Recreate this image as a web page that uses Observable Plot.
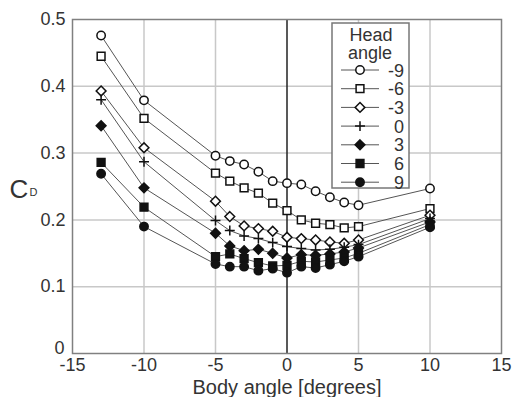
<!DOCTYPE html>
<html><head><meta charset="utf-8">
<script src="https://cdn.jsdelivr.net/npm/d3@7"></script>
<script src="https://cdn.jsdelivr.net/npm/@observablehq/plot@0.6"></script>
<style>body{margin:0;background:#fff}</style>
</head><body><div id="chart"></div>
<script>
const bodyAngles = [-13,-10,-5,-4,-3,-2,-1,0,1,2,3,4,5,10];
const headAngles = [-9,-6,-3,0,3,6,9];
const cdM9 = [0.476,0.379,0.296,0.288,0.283,0.272,0.258,0.255,0.253,0.243,0.234,0.226,0.222,0.247];
const cdM6 = [0.445,0.352,0.270,0.258,0.248,0.240,0.225,0.214,0.200,0.195,0.193,0.188,0.190,0.217];
const cdM3 = [0.393,0.308,0.228,0.205,0.191,0.187,0.183,0.174,0.172,0.170,0.167,0.165,0.170,0.207];
const cd0  = [0.380,0.287,0.199,0.184,0.176,0.172,0.166,0.160,0.157,0.155,0.156,0.159,0.163,0.202];
const cdP3 = [0.341,0.248,0.180,0.161,0.154,0.156,0.150,0.143,0.148,0.147,0.149,0.152,0.158,0.197];
const cdP6 = [0.286,0.219,0.145,0.149,0.142,0.136,0.131,0.132,0.138,0.137,0.140,0.143,0.150,0.193];
const cdP9 = [0.269,0.190,0.134,0.130,0.130,0.124,0.127,0.121,0.130,0.128,0.133,0.138,0.145,0.189];
const seriesValues = [cdM9, cdM6, cdM3, cd0, cdP3, cdP6, cdP9];
const xTicks = [-15,-10,-5,0,5,10,15];
const yTicks = [0,0.1,0.2,0.3,0.4,0.5];

const styles = [
  {symbol:"circle", d3sym:d3.symbolCircle, fill:"white", r:4.2},
  {symbol:"square", d3sym:d3.symbolSquare, fill:"white", r:4.4},
  {symbol:"diamond2", d3sym:d3.symbolDiamond2, fill:"white", r:4.4},
  {symbol:"plus", d3sym:d3.symbolPlus, fill:"none", r:3.3},
  {symbol:"diamond2", d3sym:d3.symbolDiamond2, fill:"#111", r:4.4},
  {symbol:"square", d3sym:d3.symbolSquare, fill:"#111", r:4.4},
  {symbol:"circle", d3sym:d3.symbolCircle, fill:"#111", r:4.2}
];

const rows = [];
headAngles.forEach((h, i) => bodyAngles.forEach((b, j) => rows.push({head:h, body:b, cd:seriesValues[i][j]})));

const font = "'Liberation Sans', Arial, sans-serif";
const marks = [
  Plot.gridX(xTicks.filter(d => d !== 0 && d !== -15 && d !== 15), {stroke:"#c8c8c8", strokeOpacity:1, strokeWidth:1.5}),
  Plot.gridY(yTicks.filter(d => d > 0 && d < 0.5), {stroke:"#c8c8c8", strokeOpacity:1, strokeWidth:1.5}),
  Plot.ruleX([0], {stroke:"#222", strokeWidth:1.5}),
  Plot.frame({stroke:"#808080", strokeWidth:1.5})
];
headAngles.forEach((h, i) => {
  const data = rows.filter(r => r.head === h);
  const s = styles[i];
  marks.push(Plot.line(data, {x:"body", y:"cd", stroke:"#555", strokeWidth:1}));
  marks.push(Plot.dot(data, {x:"body", y:"cd", symbol:s.symbol, r:s.r, fill:s.fill, stroke:"#111", strokeWidth:1.5}));
});
marks.push(
  Plot.axisX({ticks:xTicks, tickSize:0, tickPadding:5, fontSize:18, label:null, tickFormat:d => String(d)}),
  Plot.axisY({ticks:yTicks.filter(d => d > 0), tickSize:0, tickPadding:7, fontSize:18, label:null, tickFormat:d => String(d)}),
  Plot.axisY({ticks:[0], tickSize:0, tickPadding:8, dy:-5, fontSize:18, label:null, tickFormat:d => String(d)}),
  Plot.text(["Body angle [degrees]"], {frameAnchor:"bottom", dy:40, fontSize:20, fill:"#333"}),
  Plot.text(["C"], {frameAnchor:"left", textAnchor:"start", dx:-63, dy:3, fontSize:26, fill:"#333"}),
  Plot.text(["D"], {frameAnchor:"left", textAnchor:"start", dx:-43, dy:6, fontSize:11, fill:"#333"})
);

const plot = Plot.plot({
  width:513, height:397,
  marginLeft:72, marginRight:12, marginTop:19, marginBottom:44,
  style:{fontFamily:font, color:"#333", background:"white", overflow:"visible"},
  x:{domain:[-15,15]},
  y:{domain:[0,0.5]},
  marks
});

// Legend inside the frame
const svg = d3.select(plot);
const g = svg.append("g").attr("font-family", font).attr("fill", "#333");
g.append("rect").attr("x",332).attr("y",23).attr("width",77).attr("height",165)
  .attr("fill","white").attr("stroke","#777").attr("stroke-width",1.5);
g.append("text").attr("x",371).attr("y",41).attr("text-anchor","middle").attr("font-size",18).text("Head");
g.append("text").attr("x",370).attr("y",59).attr("text-anchor","middle").attr("font-size",18).text("angle");
headAngles.forEach((h, i) => {
  const cy = 70 + i * 18.7;
  const s = styles[i];
  g.append("line").attr("x1",341).attr("x2",379).attr("y1",cy).attr("y2",cy).attr("stroke","#555").attr("stroke-width",1);
  g.append("path").attr("transform", `translate(360,${cy})`)
    .attr("d", d3.symbol(s.d3sym, Math.PI * s.r * s.r)())
    .attr("fill", s.fill).attr("stroke","#111").attr("stroke-width",1.5);
  g.append("text").attr("x",404).attr("y",cy + 6.5).attr("text-anchor","end").attr("font-size",18).text(String(h));
});

document.getElementById("chart").appendChild(plot);
</script>
</body></html>
